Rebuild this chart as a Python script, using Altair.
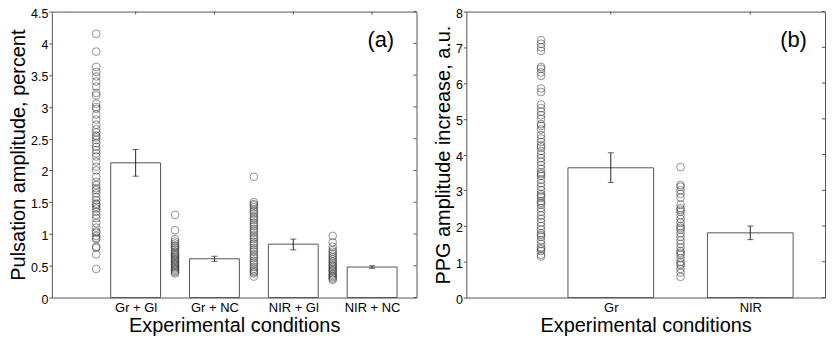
import json
import altair as alt
import pandas as pd

# ---------------- Panel (a) data ----------------
cats_a = ["Gr + Gl", "Gr + NC", "NIR + Gl", "NIR + NC"]
means_a = [2.12, 0.61, 0.84, 0.48]
lo_a = [1.91, 0.57, 0.75, 0.46]
hi_a = [2.33, 0.65, 0.92, 0.50]
pts_gr_gl = [4.15, 3.87, 3.63, 3.55, 3.48, 3.40, 3.32, 3.22, 3.18, 3.05, 3.00, 2.97,
             2.88, 2.80, 2.72, 2.65, 2.60, 2.55, 2.52, 2.48, 2.43, 2.37, 2.32, 2.27,
             2.22, 2.14, 2.06, 2.00, 1.90, 1.82, 1.77, 1.72, 1.69, 1.64, 1.58, 1.53,
             1.48, 1.46, 1.43, 1.40, 1.35, 1.30, 1.25, 1.17, 1.10, 1.04, 1.02, 0.97,
             0.94, 0.92, 0.80, 0.78, 0.68, 0.45]
pts_gr_nc = [1.30, 1.06, 0.92, 0.88, 0.85, 0.82, 0.80, 0.78, 0.75, 0.72, 0.70, 0.68,
             0.66, 0.64, 0.62, 0.60, 0.58, 0.56, 0.54, 0.52, 0.50, 0.48, 0.46, 0.44,
             0.42, 0.40, 0.38]
pts_nir_gl = [1.90, 1.50, 1.47, 1.45, 1.42, 1.38, 1.35, 1.32, 1.28, 1.25, 1.22, 1.18,
              1.15, 1.12, 1.08, 1.05, 1.02, 0.98, 0.95, 0.92, 0.88, 0.85, 0.82, 0.78,
              0.75, 0.72, 0.68, 0.65, 0.62, 0.58, 0.55, 0.52, 0.48, 0.45, 0.42, 0.40,
              0.38, 0.33]
pts_nir_nc = [0.97, 0.87, 0.80, 0.75, 0.72, 0.69, 0.66, 0.63, 0.60, 0.57, 0.55, 0.52,
              0.50, 0.48, 0.45, 0.43, 0.41, 0.38, 0.36, 0.34, 0.32, 0.30, 0.28]
yticks_a = [0, 0.5, 1, 1.5, 2, 2.5, 3, 3.5, 4, 4.5]

# ---------------- Panel (b) data ----------------
cats_b = ["Gr", "NIR"]
means_b = [3.63, 1.81]
lo_b = [3.22, 1.62]
hi_b = [4.05, 2.00]
pts_gr = [7.2, 7.1, 7.0, 6.9, 6.45, 6.4, 6.3, 6.2, 5.85, 5.75, 5.4, 5.3, 5.2, 5.1,
          5.0, 4.85, 4.8, 4.7, 4.55, 4.45, 4.35, 4.25, 4.2, 4.1, 4.0, 3.9, 3.8, 3.7,
          3.6, 3.5, 3.45, 3.4, 3.3, 3.2, 3.1, 3.0, 2.9, 2.85, 2.8, 2.7, 2.65, 2.6,
          2.5, 2.4, 2.3, 2.2, 2.1, 2.0, 1.9, 1.8, 1.75, 1.7, 1.6, 1.5, 1.4, 1.35,
          1.3, 1.2, 1.15]
pts_nir = [3.65, 3.15, 3.1, 3.0, 2.9, 2.8, 2.6, 2.5, 2.45, 2.4, 2.3, 2.2, 2.1, 2.0,
           1.95, 1.9, 1.8, 1.7, 1.6, 1.5, 1.4, 1.3, 1.25, 1.2, 1.1, 1.0, 0.95, 0.9,
           0.8, 0.7, 0.58]
yticks_b = [0, 1, 2, 3, 4, 5, 6, 7, 8]

FONT = "Liberation Sans"
H = 287
FRAME = "#555555"


def panel(cats, means, lo, hi, pts, yticks, ytitle, tag, tag_xy, bar_px, W):
    n = len(cats)
    pos = list(range(1, n + 1))
    xs = alt.Scale(domain=[0, n + 0.5], nice=False, zero=False)
    ys = alt.Scale(domain=[yticks[0], yticks[-1]], nice=False)
    label_expr = json.dumps(cats) + "[datum.value - 1]"

    bars = pd.DataFrame({"x": pos, "m": means, "lo": lo, "hi": hi})
    rows = []
    for p, vals in zip(pos, pts):
        for v in vals:
            rows.append({"x": p - 0.5, "m": v})
    dots = pd.DataFrame(rows)
    yt = pd.DataFrame({"m": yticks})
    xt = pd.DataFrame({"x": pos})

    xaxis = alt.Axis(values=pos, labelExpr=label_expr, ticks=False, domain=False,
                     grid=False, labelFontSize=13, labelFont=FONT, labelColor="black",
                     labelPadding=4, title="Experimental conditions", titleFont=FONT,
                     titleFontSize=20, titleFontWeight="normal", titleColor="black",
                     titlePadding=1)
    yaxis = alt.Axis(values=yticks, format="~g", ticks=True, tickSize=3,
                     tickColor=FRAME, domain=False, grid=False,
                     labelFontSize=12.5, labelFont=FONT, labelColor="black",
                     labelPadding=1, labelOffset=1.5, title=ytitle, titleFont=FONT,
                     titleFontSize=20, titleFontWeight="normal", titleColor="black",
                     titlePadding=2)

    X = alt.X("x:Q", scale=xs, axis=xaxis)
    Y = alt.Y("m:Q", scale=ys, axis=yaxis)

    base_bar = alt.Chart(bars).mark_bar(size=bar_px, fill="white", stroke=FRAME,
                                        strokeWidth=1).encode(x=X, y=Y)
    err = alt.Chart(bars).mark_rule(color="#222222", strokeWidth=1).encode(
        x=X, y=alt.Y("lo:Q", scale=ys, axis=yaxis), y2="hi:Q")
    cap_lo = alt.Chart(bars).mark_tick(orient="horizontal", size=6, thickness=1,
                                       color="#222222").encode(
        x=X, y=alt.Y("lo:Q", scale=ys, axis=yaxis))
    cap_hi = alt.Chart(bars).mark_tick(orient="horizontal", size=6, thickness=1,
                                       color="#222222").encode(
        x=X, y=alt.Y("hi:Q", scale=ys, axis=yaxis))
    pts_layer = alt.Chart(dots).mark_point(shape="circle", size=60, filled=False,
                                           stroke="#2a2a2a", strokeWidth=0.9,
                                           strokeOpacity=0.8).encode(x=X, y=Y)

    tick_r = alt.Chart(yt).mark_rule(color=FRAME, strokeWidth=1).encode(
        y=Y, x=alt.value(W), x2=alt.value(W - 3))
    tick_t = alt.Chart(xt).mark_rule(color=FRAME, strokeWidth=1).encode(
        x=X, y=alt.value(0), y2=alt.value(3))

    tag_df = pd.DataFrame({"x": [tag_xy[0]], "m": [tag_xy[1]], "t": [tag]})
    tag_layer = alt.Chart(tag_df).mark_text(font=FONT, fontSize=22, color="black",
                                            align="center", baseline="middle").encode(
        x=X, y=Y, text="t:N")

    return alt.layer(base_bar, tick_r, tick_t, pts_layer, err, cap_lo, cap_hi,
                     tag_layer).properties(width=W, height=H)


pa = panel(cats_a, means_a, lo_a, hi_a, [pts_gr_gl, pts_gr_nc, pts_nir_gl, pts_nir_nc],
           yticks_a, "Pulsation amplitude, percent", "(a)", (4.11, 4.05), 50, 366)
pb = panel(cats_b, means_b, lo_b, hi_b, [pts_gr, pts_nir],
           yticks_b, "PPG amplitude increase, a.u.", "(b)", (2.31, 7.2), 86, 360)

chart = alt.hconcat(pa, pb, spacing=15).properties(
    padding={"top": -2, "left": 0, "right": 0, "bottom": 0},
    background="white",
).configure_view(stroke=FRAME, strokeWidth=1)

chart.save("out.html", embed_options={"renderer": "svg", "actions": False})
